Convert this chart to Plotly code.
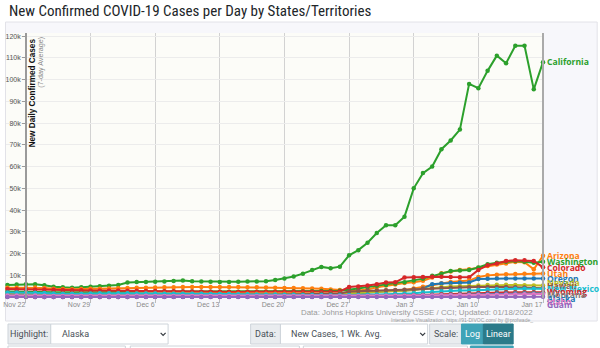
import plotly.graph_objects as go
import pandas as pd

# ---------------- data (7-day average new cases, thousands) ----------------
dates = pd.date_range("2021-11-20", "2022-01-17", freq="D")

alaska = [0.4, 0.4, 0.4, 0.35, 0.35, 0.3, 0.3, 0.3, 0.3, 0.3, 0.3,
          0.25, 0.25, 0.25, 0.25, 0.25, 0.2, 0.2, 0.2, 0.2, 0.2, 0.2, 0.2, 0.2, 0.2, 0.2,
          0.15, 0.15, 0.15, 0.15, 0.15, 0.15, 0.15, 0.15, 0.15, 0.15, 0.15, 0.2, 0.25, 0.3, 0.35, 0.4,
          0.45, 0.5, 0.6, 0.7, 0.8, 0.9, 1.0, 1.1, 1.2, 1.3, 1.4, 1.5, 1.5, 1.6, 1.6, 1.6, 1.6]
arizona = [4.3, 4.3, 4.4, 4.4, 4.2, 3.9, 3.7, 3.6, 3.7, 3.8, 3.9,
           4.0, 4.1, 4.2, 4.3, 4.3, 4.4, 4.5, 4.5, 4.6, 4.6, 4.6, 4.6, 4.6, 4.6, 4.6,
           4.5, 4.5, 4.4, 4.3, 4.2, 4.2, 4.1, 4.0, 3.8, 3.5, 3.3, 3.0, 3.1, 3.5, 4.5, 5.3,
           5.8, 6.5, 6.8, 7.5, 9.0, 11.0, 11.8, 12.5, 12.8, 13.5, 14.3, 15.0, 15.5, 16.2, 16.0, 12.8, 19.0]
california = [5.6, 5.8, 5.9, 5.9, 5.5, 4.8, 4.5, 4.3, 4.5, 4.8, 5.0,
              5.2, 5.6, 6.7, 6.9, 7.0, 7.1, 7.2, 7.4, 7.6, 7.3, 7.2, 7.1, 7.0, 7.0, 7.1,
              7.2, 7.2, 7.3, 7.9, 8.6, 9.5, 10.8, 12.5, 13.9, 13.3, 14.0, 19.2, 21.6, 25.0, 29.5, 33.0,
              33.0, 37.0, 50.0, 57.0, 60.0, 68.0, 72.0, 77.0, 98.0, 96.0, 104.0, 111.0, 107.5, 115.5, 115.5, 95.5, 108.0]
colorado = [3.7, 3.6, 3.6, 3.5, 3.5, 3.4, 3.3, 3.2, 3.2, 3.1, 3.1,
            3.0, 3.0, 2.9, 2.9, 2.8, 2.8, 2.7, 2.7, 2.6, 2.6, 2.5, 2.5, 2.5, 2.4, 2.4,
            2.4, 2.4, 2.4, 2.4, 2.4, 2.5, 2.5, 2.5, 2.5, 2.5, 2.6, 4.7, 4.9, 5.3, 5.9, 6.7,
            6.8, 9.0, 9.1, 9.3, 9.4, 9.4, 9.2, 9.1, 9.1, 12.5, 14.6, 15.5, 16.6, 16.9, 16.9, 16.6, 13.7]
guam = [0.02, 0.02, 0.02, 0.02, 0.02, 0.02, 0.02, 0.02, 0.02, 0.02, 0.02,
        0.02, 0.02, 0.02, 0.02, 0.02, 0.02, 0.02, 0.02, 0.02, 0.02, 0.02, 0.02, 0.02, 0.02, 0.02,
        0.02, 0.02, 0.02, 0.02, 0.02, 0.02, 0.02, 0.02, 0.02, 0.02, 0.02, 0.03, 0.03, 0.03, 0.03, 0.03,
        0.04, 0.05, 0.06, 0.07, 0.08, 0.09, 0.1, 0.1, 0.11, 0.12, 0.12, 0.12, 0.12, 0.12, 0.12, 0.12, 0.12]
hawaii = [0.12, 0.12, 0.12, 0.11, 0.11, 0.1, 0.1, 0.1, 0.1, 0.1, 0.1,
          0.1, 0.1, 0.11, 0.12, 0.13, 0.15, 0.17, 0.2, 0.25, 0.3, 0.35, 0.4, 0.45, 0.5, 0.6,
          0.7, 0.8, 0.9, 1.0, 1.1, 1.2, 1.3, 1.4, 1.5, 1.6, 1.7, 2.6, 2.8, 3.0, 3.1, 3.2,
          3.3, 3.4, 3.6, 3.8, 4.0, 4.2, 4.3, 4.4, 4.5, 4.6, 4.7, 4.7, 4.6, 4.5, 4.4, 4.2, 4.1]
idaho = [0.7, 0.7, 0.7, 0.7, 0.65, 0.55, 0.5, 0.5, 0.5, 0.55, 0.6,
         0.6, 0.6, 0.6, 0.6, 0.6, 0.55, 0.55, 0.55, 0.55, 0.5, 0.5, 0.5, 0.5, 0.5, 0.45,
         0.45, 0.45, 0.45, 0.45, 0.45, 0.45, 0.45, 0.45, 0.45, 0.4, 0.4, 0.45, 0.5, 0.5, 0.55, 0.6,
         0.6, 0.65, 0.7, 0.75, 0.8, 0.85, 0.9, 0.95, 1.0, 1.05, 1.1, 1.15, 1.2, 1.25, 1.3, 1.35, 1.4]
montana = [0.5, 0.5, 0.5, 0.5, 0.45, 0.4, 0.4, 0.4, 0.4, 0.4, 0.4,
           0.4, 0.4, 0.4, 0.35, 0.35, 0.35, 0.35, 0.35, 0.3, 0.3, 0.3, 0.3, 0.3, 0.3, 0.3,
           0.3, 0.3, 0.3, 0.3, 0.3, 0.3, 0.3, 0.3, 0.3, 0.3, 0.3, 0.35, 0.4, 0.45, 0.5, 0.55,
           0.6, 0.65, 0.75, 0.85, 0.95, 1.1, 1.2, 1.3, 1.4, 1.5, 1.6, 1.7, 1.8, 1.85, 1.9, 1.9, 1.9]
nevada = [0.8, 0.8, 0.8, 0.8, 0.75, 0.65, 0.6, 0.6, 0.65, 0.7, 0.75,
          0.75, 0.75, 0.75, 0.75, 0.75, 0.75, 0.75, 0.75, 0.75, 0.75, 0.75, 0.75, 0.75, 0.75, 0.75,
          0.8, 0.8, 0.8, 0.85, 0.9, 0.95, 1.0, 1.1, 1.2, 1.2, 1.3, 1.6, 1.9, 2.2, 2.5, 2.7,
          2.8, 2.9, 3.3, 3.7, 4.1, 4.6, 4.9, 5.0, 5.1, 5.4, 5.6, 5.7, 5.7, 5.6, 5.5, 5.4, 5.4]
new_mexico = [2.1, 2.1, 2.1, 2.0, 1.9, 1.7, 1.6, 1.6, 1.6, 1.7, 1.8,
              1.8, 1.8, 1.8, 1.7, 1.7, 1.7, 1.6, 1.6, 1.6, 1.5, 1.5, 1.4, 1.4, 1.4, 1.3,
              1.3, 1.2, 1.2, 1.2, 1.1, 1.1, 1.0, 1.0, 1.0, 0.9, 0.9, 1.0, 1.0, 1.1, 1.2, 1.3,
              1.4, 1.5, 1.8, 2.1, 2.4, 2.7, 2.9, 3.0, 3.1, 3.3, 3.5, 3.6, 3.7, 3.8, 3.8, 3.8, 3.8]
oregon = [1.0, 1.0, 1.0, 1.0, 0.95, 0.85, 0.8, 0.8, 0.85, 0.9, 0.95,
          0.95, 0.95, 0.95, 0.95, 0.95, 0.95, 0.95, 0.95, 0.95, 0.95, 0.9, 0.9, 0.9, 0.9, 0.9,
          0.9, 0.9, 0.9, 0.9, 0.95, 0.95, 1.0, 1.05, 1.1, 1.1, 1.15, 1.5, 1.8, 2.1, 2.4, 2.7,
          2.8, 2.9, 3.3, 3.9, 5.9, 6.3, 6.5, 6.6, 6.7, 8.3, 8.5, 8.6, 8.6, 8.6, 8.6, 8.6, 8.6]
utah = [1.9, 1.9, 1.9, 1.9, 1.8, 1.6, 1.5, 1.5, 1.5, 1.6, 1.7,
        1.7, 1.7, 1.7, 1.7, 1.7, 1.7, 1.7, 1.7, 1.7, 1.6, 1.6, 1.6, 1.6, 1.6, 1.6,
        1.5, 1.5, 1.5, 1.5, 1.5, 1.5, 1.6, 1.6, 1.6, 1.6, 1.7, 2.0, 2.2, 2.5, 2.8, 3.0,
        3.1, 3.3, 4.0, 4.8, 5.6, 6.4, 7.0, 7.3, 7.6, 9.3, 10.0, 10.3, 10.5, 10.6, 10.7, 10.8, 10.9]
washington = [2.6, 2.6, 2.5, 2.5, 2.4, 2.3, 2.2, 2.1, 2.1, 2.2, 2.3,
              2.4, 2.5, 2.5, 2.6, 2.6, 2.6, 2.6, 2.6, 2.6, 2.6, 2.5, 2.5, 2.5, 2.5, 2.5,
              2.5, 2.5, 2.5, 2.5, 2.5, 2.6, 2.6, 2.7, 2.8, 2.8, 2.9, 3.6, 4.0, 4.6, 5.2, 5.6,
              6.2, 6.8, 7.7, 8.5, 9.8, 10.8, 12.0, 12.2, 12.5, 13.6, 15.1, 15.8, 16.3, 16.6, 16.3, 15.8, 16.3]
wyoming = [0.3, 0.3, 0.3, 0.3, 0.28, 0.25, 0.22, 0.22, 0.22, 0.24, 0.25,
           0.25, 0.25, 0.24, 0.24, 0.24, 0.23, 0.23, 0.22, 0.22, 0.21, 0.2, 0.2, 0.2, 0.2, 0.19,
           0.19, 0.18, 0.18, 0.17, 0.17, 0.17, 0.16, 0.16, 0.16, 0.15, 0.15, 0.2, 0.25, 0.3, 0.35, 0.45,
           0.55, 0.65, 0.8, 0.95, 1.1, 1.3, 1.45, 1.6, 1.75, 1.9, 2.0, 2.1, 2.2, 2.25, 2.3, 2.3, 2.3]

state_names = ["Alaska", "Arizona", "California", "Colorado", "Guam", "Hawaii", "Idaho",
               "Montana", "Nevada", "New Mexico", "Oregon", "Utah", "Washington", "Wyoming"]
state_values = [alaska, arizona, california, colorado, guam, hawaii, idaho,
                montana, nevada, new_mexico, oregon, utah, washington, wyoming]
palette = ["#1f77b4", "#ff7f0e", "#2ca02c", "#d62728", "#9467bd", "#8c564b", "#e377c2",
           "#7f7f7f", "#bcbd22", "#17becf"]

x_tick_dates = pd.date_range("2021-11-22", "2022-01-17", freq="7D")
x_tick_labels = ["Nov 22", "Nov 29", "Dec 6", "Dec 13", "Dec 20", "Dec 27", "Jan 3", "Jan 10", "Jan 17"]
y_tick_values = [10000, 20000, 30000, 40000, 50000, 60000, 70000, 80000, 90000, 100000, 110000, 120000]
y_tick_labels = ["10k", "20k", "30k", "40k", "50k", "60k", "70k", "80k", "90k", "100k", "110k", "120k"]

# ---------------- geometry ----------------
W, H = 600, 348
ML, MR, MT, MB = 3, 57, 33, 50
PW, PH = W - ML - MR, H - MT - MB
Y_RANGE = [-400, 121400]
X_RANGE = ["2021-11-19 20:18", "2022-01-17"]


def px(x):
    return (x - ML) / PW


def py(y):
    return (H - MB - y) / PH


FONT = "Liberation Sans, Arial, sans-serif"
fig = go.Figure()

# draw larger series first so the small ones sit on top
draw_order = sorted(range(len(state_names)), key=lambda k: -state_values[k][-1])
for i in draw_order:
    col = palette[i % len(palette)]
    fig.add_trace(go.Scatter(
        x=dates, y=[v * 1000 for v in state_values[i]], mode="lines+markers", name=state_names[i],
        line=dict(color=col, width=2), marker=dict(color=col, size=4.5),
        cliponaxis=False, hoverinfo="skip", showlegend=False))

annotations = []
shapes = []

# end-of-line labels: forward push-down, then backward compression from a bottom limit
px_per_case = PH / (Y_RANGE[1] - Y_RANGE[0])
others = [k for k in draw_order if state_names[k] != "California"]
nat = {k: (H - MB) - (state_values[k][-1] * 1000 - Y_RANGE[0]) * px_per_case for k in draw_order}
pos = {}
prev = None
for k in others:
    pos[k] = nat[k] if prev is None else max(nat[k], prev + 6.2)
    prev = pos[k]
nxt = None
for k in reversed(others):
    limit = 305 if nxt is None else nxt - 3.2
    pos[k] = min(pos[k], limit)
    nxt = pos[k]
ca = state_names.index("California")
pos[ca] = nat[ca]
for k in [ca] + others:
    col = palette[k % len(palette)]
    annotations.append(dict(
        x=dates[-1], y=state_values[k][-1] * 1000, xref="x", yref="y",
        text="<b>%s</b>" % state_names[k], showarrow=False, xanchor="left", yanchor="middle",
        xshift=2, yshift=-(pos[k] - nat[k]),
        font=dict(family="Open Sans, sans-serif", size=8.6, color=col)))


def ann(text, x, y, size, color, xanchor="left", yanchor="middle", family=FONT, angle=0):
    annotations.append(dict(text=text, x=px(x), y=py(y), xref="paper", yref="paper",
                            showarrow=False, xanchor=xanchor, yanchor=yanchor,
                            textangle=angle, font=dict(family=family, size=size, color=color)))


def rect(x0, y0, x1, y1, fill, line="#ced4da", layer="above", width=1):
    shapes.append(dict(type="rect", xref="paper", yref="paper", x0=px(x0), x1=px(x1),
                       y0=py(y1), y1=py(y0), fillcolor=fill, layer=layer,
                       line=dict(color=line, width=width)))


def chevron(xc, yc):
    shapes.append(dict(type="path", xref="paper", yref="paper",
                       path="M %f,%f L %f,%f L %f,%f" % (px(xc - 2.5), py(yc - 1.2), px(xc), py(yc + 1.3),
                                                         px(xc + 2.5), py(yc - 1.2)),
                       line=dict(color="#343a40", width=1.2)))


# chart container and plot background
rect(2.5, 22, 597.5, 321, "#f7f7fb", line="#e2e2e8", layer="below")
rect(3, 33, 543, 298, "#fcfcf8", line="rgba(0,0,0,0)", layer="below", width=0)
# right frame line (current date)
shapes.append(dict(type="line", xref="paper", yref="paper", x0=1, x1=1, y0=0, y1=1,
                   line=dict(color="#aaaaaa", width=2)))

# title
ann("New Confirmed COVID-19 Cases per Day by States/Territories", 4, 11, 15, "#212529",
    family="Liberation Sans Narrow, Roboto Condensed, Roboto, sans-serif")
# y-axis titles
ann("<b>New Daily Confirmed Cases</b>", 30, 36, 8.2, "#111111", xanchor="center", yanchor="top", angle=-90)
ann("(7-day Average)", 37.5, 35, 7.2, "#888888", xanchor="center", yanchor="top", angle=-90)
# source
ann("Data: Johns Hopkins University CSSE / CCI; Updated: 01/18/2022", 535, 312, 7.9, "#9a9a9a",
    xanchor="right")
ann("Interactive Visualization: https://91-DIVOC.com/ by @profwade_", 535, 319.5, 5, "#9a9a9a",
    xanchor="right")

# control bar
CF = "Roboto, sans-serif"
CS = 9
rect(5, 324, 48, 344, "#e9ecef")
ann("Highlight:", 26.5, 334, CS, "#495057", xanchor="center", family=CF)
rect(48, 324, 166, 344, "#ffffff")
ann("Alaska", 57, 334, CS, "#495057", family=CF)
chevron(161, 334)
rect(249, 324, 279, 344, "#e9ecef")
ann("Data:", 264, 334, CS, "#495057", xanchor="center", family=CF)
rect(279, 324, 427, 344, "#ffffff")
ann("New Cases, 1 Wk. Avg.", 288, 334, CS, "#495057", family=CF)
chevron(422, 334)
rect(429, 324, 461, 344, "#e9ecef")
ann("Scale:", 445, 334, CS, "#495057", xanchor="center", family=CF)
rect(461, 324, 483, 344, "#3fa3b7", line="#3fa3b7")
ann("Log", 472, 334, CS, "#ffffff", xanchor="center", family=CF)
rect(483, 324, 513, 344, "#2b7a89", line="#2b7a89")
ann("Linear", 498, 334, CS, "#ffffff", xanchor="center", family=CF)
# second control row (cut off)
rect(5, 346, 123, 360, "#ffffff")
rect(128, 346, 298, 360, "#ffffff")
rect(302, 346, 467, 360, "#ffffff")
rect(470, 346, 513, 360, "#3fa3b7", line="#3fa3b7")

fig.update_layout(
    width=W, height=H, margin=dict(l=ML, r=MR, t=MT, b=MB, pad=0),
    paper_bgcolor="#ffffff", plot_bgcolor="rgba(0,0,0,0)", showlegend=False,
    xaxis=dict(range=X_RANGE, tickvals=list(x_tick_dates), ticktext=x_tick_labels,
               showgrid=True, gridcolor="#d2d2d2", gridwidth=1, zeroline=False, showline=False,
               ticks="outside", ticklen=4, tickcolor="#bbbbbb", ticklabelposition="outside left",
               tickfont=dict(family=FONT, size=7, color="#8a8a8a")),
    yaxis=dict(range=Y_RANGE, anchor="free", position=px(23), tickvals=y_tick_values,
               ticktext=y_tick_labels, showgrid=True, gridcolor="#ececec", zeroline=False,
               showline=True, linecolor="#9a9a9a", linewidth=1.5, ticks="outside", ticklen=3,
               tickcolor="#9a9a9a", tickfont=dict(family=FONT, size=7, color="#555555")),
    annotations=annotations, shapes=shapes,
)

fig.write_html("out.html")
